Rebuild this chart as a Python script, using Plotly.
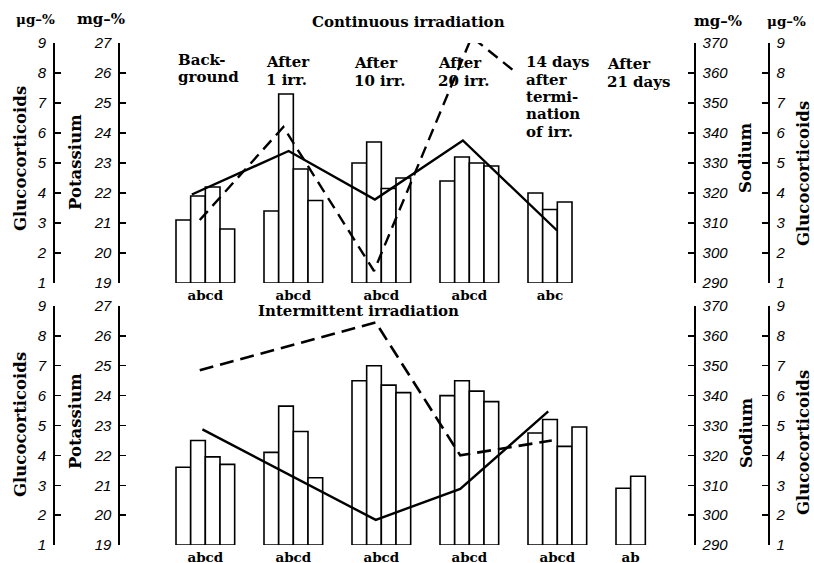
import plotly.graph_objects as go

W, H = 814, 563

# ---------------- data ----------------
top_letters = ["abcd", "abcd", "abcd", "abcd", "abc"]
bot_letters = ["abcd", "abcd", "abcd", "abcd", "abcd", "ab"]

k_ticks = [19, 20, 21, 22, 23, 24, 25, 26, 27]
na_ticks = [290, 300, 310, 320, 330, 340, 350, 360, 370]
gc_ticks = [1, 2, 3, 4, 5, 6, 7, 8, 9]

# Potassium (mg-%) bars, one list per group
k_top = [[21.1, 21.9, 22.2, 20.8],
         [21.4, 25.3, 22.8, 21.75],
         [23.0, 23.7, 22.15, 22.5],
         [22.4, 23.2, 23.0, 22.9],
         [22.0, 21.45, 21.7]]
k_bot = [[21.6, 22.5, 21.95, 21.7],
         [22.1, 23.65, 22.8, 21.25],
         [24.5, 25.0, 24.35, 24.1],
         [24.0, 24.5, 24.15, 23.8],
         [22.75, 23.2, 22.3, 22.95],
         [20.9, 21.3]]

# Sodium (mg-%) solid line
na_top_x = [0.18, 1.28, 2.26, 3.26, 4.33]
na_top = [319.5, 334.0, 317.8, 337.5, 307.5]
na_bot_x = [0.3, 2.27, 3.23, 4.23]
na_bot = [328.7, 298.4, 308.8, 334.7]

# Glucocorticoids (ug-%) dashed line
gc_top_x = [0.27, 1.22, 2.25, 3.36, 3.87]
gc_top = [3.1, 6.2, 1.4, 9.2, 8.0]
gc_bot_x = [0.27, 2.27, 3.23, 4.27]
gc_bot = [6.85, 8.45, 4.0, 4.5]

K_BASE = 19

# ---------------- helpers ----------------
def px(x):
    return x / W

def py(y):
    return 1 - y / H

BW = 1 / 6  # bar width in group units
SERIF = "DejaVu Serif"
NUMF = dict(family="Liberation Sans", size=15, color="black", style="italic")

def bar_positions(groups):
    xs, hs = [], []
    for g, vals in enumerate(groups):
        for j, v in enumerate(vals):
            xs.append(g + (j + 0.5) * BW)
            hs.append(v - K_BASE)
    return xs, hs

def centers(groups):
    return [g + len(v) * BW / 2 for g, v in enumerate(groups)]

fig = go.Figure()

tx, th = bar_positions(k_top)
bx, bh = bar_positions(k_bot)
barstyle = dict(color="white", line=dict(color="black", width=1.6))

fig.add_trace(go.Bar(x=tx, y=th, width=BW, base=K_BASE, xaxis="x", yaxis="y",
                     marker=barstyle, showlegend=False, hoverinfo="skip"))
fig.add_trace(go.Bar(x=bx, y=bh, width=BW, base=K_BASE, xaxis="x2", yaxis="y5",
                     marker=barstyle, showlegend=False, hoverinfo="skip"))

fig.add_trace(go.Scatter(x=na_top_x, y=na_top, xaxis="x", yaxis="y2", mode="lines",
                         line=dict(color="black", width=2.4), cliponaxis=False, showlegend=False))
fig.add_trace(go.Scatter(x=gc_top_x, y=gc_top, xaxis="x", yaxis="y3", mode="lines",
                         line=dict(color="black", width=2.4, dash="12px,7px"), cliponaxis=False,
                         showlegend=False))
fig.add_trace(go.Scatter(x=na_bot_x, y=na_bot, xaxis="x2", yaxis="y6", mode="lines",
                         line=dict(color="black", width=2.4), cliponaxis=False, showlegend=False))
fig.add_trace(go.Scatter(x=gc_bot_x, y=gc_bot, xaxis="x2", yaxis="y7", mode="lines",
                         line=dict(color="black", width=2.6, dash="14px,7px"), cliponaxis=False,
                         showlegend=False))
# empty traces so the right-hand glucocorticoid axes are drawn
fig.add_trace(go.Scatter(x=[None], y=[None], xaxis="x", yaxis="y4", showlegend=False))
fig.add_trace(go.Scatter(x=[None], y=[None], xaxis="x2", yaxis="y8", showlegend=False))

xdom = [px(120), px(694)]
xr = [(120 - 176) / 88, (694 - 176) / 88]
topdom = [py(283), py(43)]
botdom = [py(545), py(306)]

xcommon = dict(domain=xdom, range=xr, showgrid=False, zeroline=False, showline=False,
               automargin=False, ticks="", ticklabelstandoff=2,
               tickfont=dict(family=SERIF, size=13.5, color="black", weight="bold"))

def yax(dom, ticks, side, anchor=None, position=None, overlay=None):
    d = dict(domain=dom, range=[ticks[0], ticks[-1]], tickvals=ticks,
             ticktext=[f"<i>{t}</i>" for t in ticks],
             side=side, showgrid=False, zeroline=False, automargin=False,
             showline=True, linecolor="black", linewidth=1.6, ticks="inside", ticklen=6,
             tickwidth=1.4, tickcolor="black", tickfont=NUMF, ticklabelstandoff=4)
    if anchor == "free":
        d["anchor"] = "free"
        d["position"] = position
    else:
        d["anchor"] = anchor
    if overlay:
        d["overlaying"] = overlay
    return d

fig.update_layout(
    width=W, height=H, margin=dict(l=0, r=0, t=0, b=0, autoexpand=False),
    paper_bgcolor="white", plot_bgcolor="rgba(0,0,0,0)",
    bargap=0, hovermode=False,
    xaxis=dict(xcommon, anchor="y", tickvals=centers(k_top), ticktext=top_letters),
    xaxis2=dict(xcommon, anchor="y5", tickvals=centers(k_bot), ticktext=bot_letters),
    yaxis=yax(topdom, k_ticks, "left", anchor="x"),
    yaxis2=yax(topdom, na_ticks, "right", anchor="x", overlay="y"),
    yaxis3=yax(topdom, gc_ticks, "left", anchor="free", position=px(53), overlay="y"),
    yaxis4=yax(topdom, gc_ticks, "right", anchor="free", position=px(768), overlay="y"),
    yaxis5=yax(botdom, k_ticks, "left", anchor="x2"),
    yaxis6=yax(botdom, na_ticks, "right", anchor="x2", overlay="y5"),
    yaxis7=yax(botdom, gc_ticks, "left", anchor="free", position=px(53), overlay="y5"),
    yaxis8=yax(botdom, gc_ticks, "right", anchor="free", position=px(768), overlay="y5"),
)

ann = []

def add_text(text, x, y, xa="center", ya="middle", angle=0, size=15):
    ann.append(dict(text=text, x=px(x), y=py(y), xref="paper", yref="paper",
                    xanchor=xa, yanchor=ya, showarrow=False, textangle=angle,
                    font=dict(family=SERIF, size=size, color="black", weight="bold")))

def add_block(lines, x, y0, step=17.5):
    for i, t in enumerate(lines):
        add_text(t, x, y0 + i * step, xa="left")

add_text("μg–%", 35, 19, size=13.5)
add_text("mg–%", 101, 19, size=15)
add_text("mg–%", 718, 21, size=15)
add_text("μg–%", 786, 21, size=13.5)
add_text("Continuous irradiation", 408, 22)
add_text("Intermittent irradiation", 358, 311)

add_block(["Back-", "ground"], 176, 60, step=17)
add_block(["After", "1 irr."], 264, 62)
add_block(["After", "10 irr."], 352, 63)
add_block(["After", "20 irr."], 436, 63)
add_block(["14 days", "after", "termi-", "nation", "of irr."], 524, 62)
add_block(["After", "21 days"], 605, 64)

for yc_l, yc_k, yc_na, yc_r in [(159, 162, 158, 174), (425, 421, 433, 443)]:
    add_text("Glucocorticoids", 20, yc_l, angle=-90, size=16.5)
    add_text("Potassium", 75, yc_k, angle=-90, size=16.5)
    add_text("Sodium", 746, yc_na, angle=-90, size=16.5)
    add_text("Glucocorticoids", 803, yc_r, angle=-90, size=16.5)

fig.update_layout(annotations=ann)
fig.write_html("out.html", config={"displayModeBar": False, "staticPlot": True},
               post_script="document.body.style.margin='0';document.body.style.padding='0';")
